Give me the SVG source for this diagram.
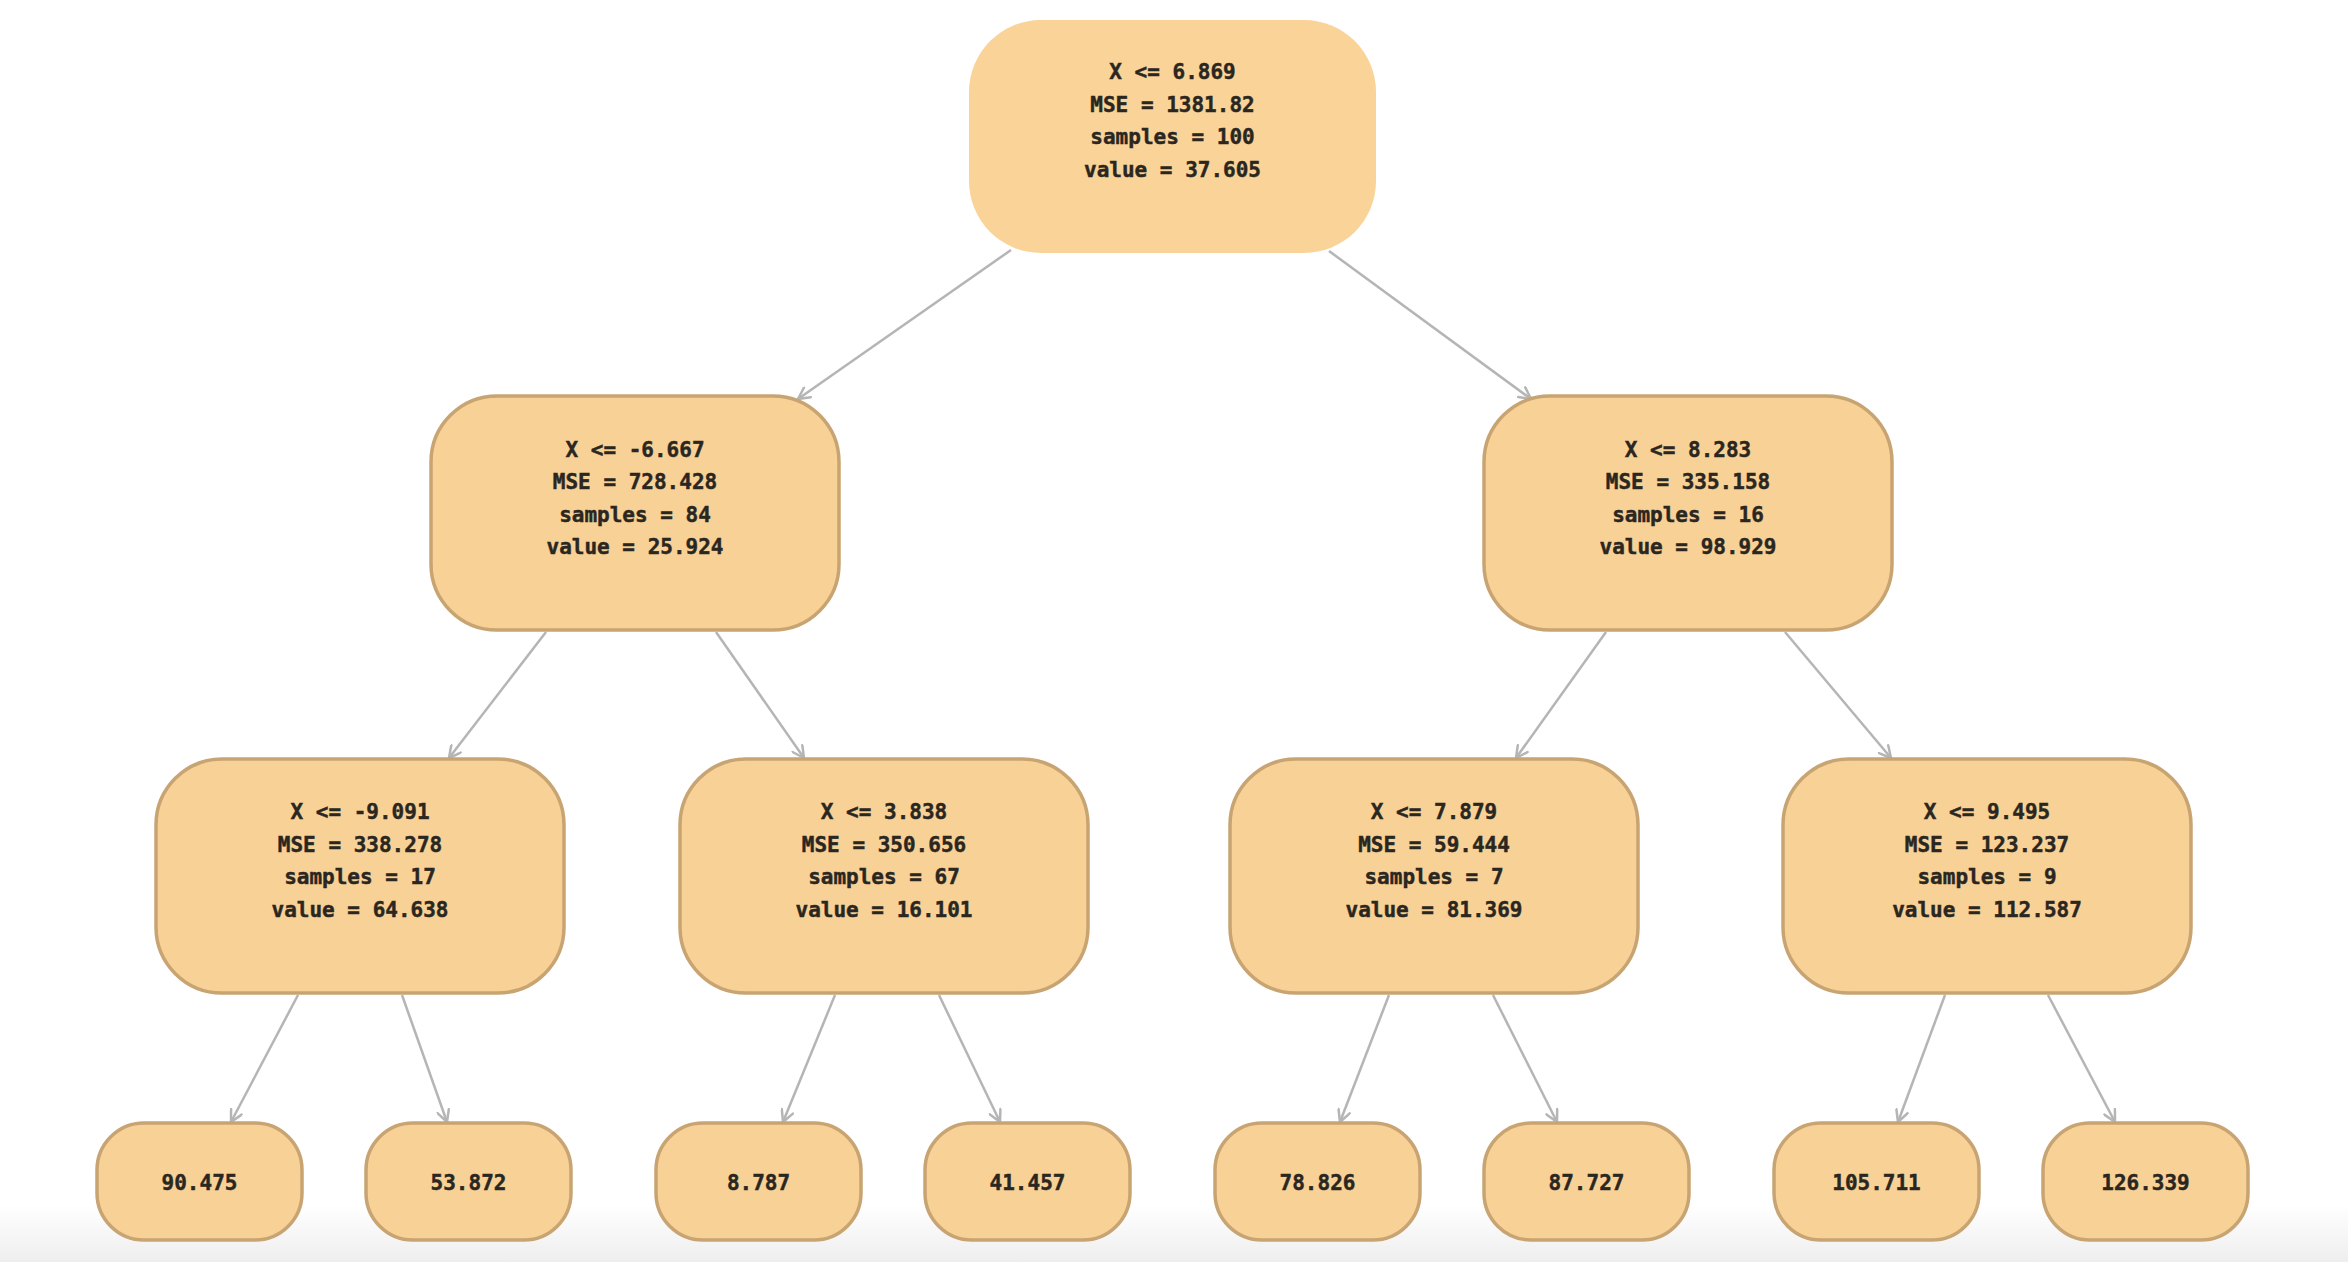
<svg xmlns="http://www.w3.org/2000/svg" width="2348" height="1262" viewBox="0 0 2348 1262">
<style>
.node rect{fill:#f8d197;stroke:#c8a472;stroke-width:3.5}
.root rect{fill:#f9d398;stroke:none}
text{font-family:"DejaVu Sans Mono","Liberation Mono",monospace;font-weight:bold;font-size:21px;fill:#2a2620;stroke:#2a2620;stroke-width:0.45;text-anchor:middle}
.edges line{stroke:#b5b5b5;stroke-width:2.5;fill:none;marker-end:url(#arr)}
</style>
<defs>
<linearGradient id="bg" x1="0" y1="0" x2="0" y2="1">
<stop offset="0" stop-color="#ffffff"/>
<stop offset="1" stop-color="#eeeeee"/>
</linearGradient>
<marker id="arr" markerUnits="userSpaceOnUse" viewBox="0 0 14 14" markerWidth="14" markerHeight="14" refX="13" refY="7" orient="auto">
<path d="M1.5,1 L13,7 L1.5,13" fill="none" stroke="#b5b5b5" stroke-width="2.5" stroke-linecap="round" stroke-linejoin="round"/>
</marker>
</defs>
<rect x="0" y="0" width="2348" height="1262" fill="#ffffff"/>
<rect x="0" y="1205" width="2348" height="57" fill="url(#bg)"/>

<g class="edges">
<line x1="1011" y1="250" x2="798" y2="399"/>
<line x1="1329" y1="251" x2="1531" y2="399"/>
<line x1="546" y1="632" x2="449" y2="758"/>
<line x1="716" y1="632" x2="804" y2="758"/>
<line x1="1606" y1="632" x2="1516" y2="758"/>
<line x1="1785" y1="632" x2="1891" y2="758"/>
<line x1="298" y1="995" x2="231" y2="1122"/>
<line x1="402" y1="995" x2="447" y2="1122"/>
<line x1="835" y1="995" x2="783" y2="1122"/>
<line x1="939" y1="995" x2="1000" y2="1122"/>
<line x1="1389" y1="995" x2="1340" y2="1122"/>
<line x1="1493" y1="995" x2="1557" y2="1122"/>
<line x1="1945" y1="995" x2="1898" y2="1122"/>
<line x1="2048" y1="995" x2="2115" y2="1122"/>
</g>

<g id="n0" class="node root">
<rect x="969" y="20" width="407" height="233" rx="72" ry="72"/>
<text x="1172.5" y="79">X &lt;= 6.869</text>
<text x="1172.5" y="112">MSE = 1381.82</text>
<text x="1172.5" y="144">samples = 100</text>
<text x="1172.5" y="177">value = 37.605</text>
</g>

<g id="n1" class="node">
<rect x="431" y="396" width="408" height="234" rx="66" ry="66"/>
<text x="635" y="457">X &lt;= -6.667</text>
<text x="635" y="489">MSE = 728.428</text>
<text x="635" y="522">samples = 84</text>
<text x="635" y="554">value = 25.924</text>
</g>

<g id="n2" class="node">
<rect x="1484" y="396" width="408" height="234" rx="66" ry="66"/>
<text x="1688" y="457">X &lt;= 8.283</text>
<text x="1688" y="489">MSE = 335.158</text>
<text x="1688" y="522">samples = 16</text>
<text x="1688" y="554">value = 98.929</text>
</g>

<g id="n3" class="node">
<rect x="156" y="759" width="408" height="234" rx="66" ry="66"/>
<text x="360" y="819">X &lt;= -9.091</text>
<text x="360" y="852">MSE = 338.278</text>
<text x="360" y="884">samples = 17</text>
<text x="360" y="917">value = 64.638</text>
</g>

<g id="n4" class="node">
<rect x="680" y="759" width="408" height="234" rx="66" ry="66"/>
<text x="884" y="819">X &lt;= 3.838</text>
<text x="884" y="852">MSE = 350.656</text>
<text x="884" y="884">samples = 67</text>
<text x="884" y="917">value = 16.101</text>
</g>

<g id="n5" class="node">
<rect x="1230" y="759" width="408" height="234" rx="66" ry="66"/>
<text x="1434" y="819">X &lt;= 7.879</text>
<text x="1434" y="852">MSE = 59.444</text>
<text x="1434" y="884">samples = 7</text>
<text x="1434" y="917">value = 81.369</text>
</g>

<g id="n6" class="node">
<rect x="1783" y="759" width="408" height="234" rx="66" ry="66"/>
<text x="1987" y="819">X &lt;= 9.495</text>
<text x="1987" y="852">MSE = 123.237</text>
<text x="1987" y="884">samples = 9</text>
<text x="1987" y="917">value = 112.587</text>
</g>

<g id="l1" class="node"><rect x="97" y="1123" width="205" height="117" rx="47" ry="47"/><text x="199.5" y="1190">90.475</text></g>
<g id="l2" class="node"><rect x="366" y="1123" width="205" height="117" rx="47" ry="47"/><text x="468.5" y="1190">53.872</text></g>
<g id="l3" class="node"><rect x="656" y="1123" width="205" height="117" rx="47" ry="47"/><text x="758.5" y="1190">8.787</text></g>
<g id="l4" class="node"><rect x="925" y="1123" width="205" height="117" rx="47" ry="47"/><text x="1027.5" y="1190">41.457</text></g>
<g id="l5" class="node"><rect x="1215" y="1123" width="205" height="117" rx="47" ry="47"/><text x="1317.5" y="1190">78.826</text></g>
<g id="l6" class="node"><rect x="1484" y="1123" width="205" height="117" rx="47" ry="47"/><text x="1586.5" y="1190">87.727</text></g>
<g id="l7" class="node"><rect x="1774" y="1123" width="205" height="117" rx="47" ry="47"/><text x="1876.5" y="1190">105.711</text></g>
<g id="l8" class="node"><rect x="2043" y="1123" width="205" height="117" rx="47" ry="47"/><text x="2145.5" y="1190">126.339</text></g>
</svg>
